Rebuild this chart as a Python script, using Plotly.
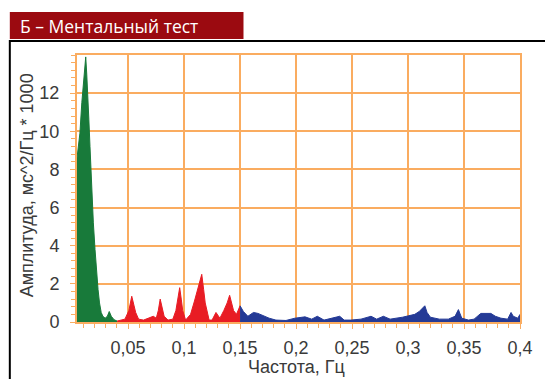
import plotly.graph_objects as go

# ---- data ----
vlf_freq = [0.0044, 0.0070, 0.0087, 0.0105, 0.0114, 0.0122, 0.0131, 0.0140, 0.0150, 0.0160,
            0.0175, 0.0190, 0.0205, 0.0219, 0.0232, 0.0245, 0.0260, 0.0275, 0.0295, 0.0315,
            0.0332, 0.0350, 0.0375, 0.0402]
vlf_amp = [8.6, 9.9, 11.5, 12.6, 13.5, 13.9, 13.0, 12.1, 10.6, 9.2,
           7.0, 5.2, 3.8, 2.6, 1.7, 1.0, 0.5, 0.3, 0.2, 0.3,
           0.55, 0.3, 0.12, 0.05]

lf_freq = [0.0402, 0.0437, 0.0472, 0.0507, 0.0533, 0.0568, 0.0594, 0.0638, 0.0682, 0.0725,
           0.0752, 0.0770, 0.0787, 0.0805, 0.0822, 0.0857, 0.0900, 0.0927, 0.0945, 0.0961,
           0.0975, 0.0988, 0.1014, 0.1058, 0.1093, 0.1119, 0.1140, 0.1158, 0.1175, 0.1189,
           0.1224, 0.1250, 0.1285, 0.1320, 0.1355, 0.1385, 0.1407, 0.1425, 0.1442, 0.1468,
           0.1500]
lf_amp = [0.05, 0.1, 0.15, 0.6, 1.35, 0.5, 0.15, 0.1, 0.2, 0.3,
          0.2, 0.6, 1.2, 0.7, 0.3, 0.1, 0.15, 0.6, 1.2, 1.8,
          1.2, 0.6, 0.1, 0.4, 1.1, 1.7, 2.2, 2.5, 1.7, 1.0,
          0.1, 0.1, 0.5, 0.2, 0.6, 1.0, 1.4, 1.0, 0.6, 0.4,
          0.85]

hf_freq = [0.150, 0.153, 0.157, 0.162, 0.166, 0.170, 0.176, 0.182, 0.191, 0.199,
           0.208, 0.214, 0.219, 0.225, 0.234, 0.239, 0.243, 0.249, 0.258, 0.267,
           0.272, 0.278, 0.284, 0.289, 0.295, 0.306, 0.310, 0.315, 0.317, 0.320,
           0.328, 0.336, 0.342, 0.345, 0.348, 0.354, 0.359, 0.365, 0.374, 0.378,
           0.383, 0.389, 0.392, 0.394, 0.398, 0.400]
hf_amp = [0.85, 0.55, 0.3, 0.5, 0.45, 0.35, 0.2, 0.1, 0.08, 0.2,
          0.27, 0.15, 0.3, 0.1, 0.25, 0.3, 0.1, 0.1, 0.15, 0.3,
          0.15, 0.3, 0.15, 0.2, 0.25, 0.4, 0.55, 0.85, 0.5, 0.25,
          0.15, 0.15, 0.3, 0.65, 0.2, 0.1, 0.15, 0.45, 0.45, 0.3,
          0.2, 0.15, 0.5, 0.3, 0.2, 0.4]

x_tickvals = [0.05, 0.1, 0.15, 0.2, 0.25, 0.3, 0.35, 0.4]
x_ticktext = ["0,05", "0,1", "0,15", "0,2", "0,25", "0,3", "0,35", "0,4"]
y_tickvals = [0, 2, 4, 6, 8, 10, 12]
y_ticktext = ["0", "2", "4", "6", "8", "10", "12"]

header_text = "Б – Ментальный тест"
x_title = "Частота, Гц"
y_title = "Амплитуда, мс^2/Гц * 1000"

# ---- figure ----
GREEN = "rgb(24,122,58)"
RED = "rgb(232,28,36)"
BLUE = "rgb(36,58,150)"
ORANGE = "rgb(250,172,96)"
TXT = "#3a3a3a"

fig = go.Figure()
for fx, fy, col in [(vlf_freq, vlf_amp, GREEN), (lf_freq, lf_amp, RED), (hf_freq, hf_amp, BLUE)]:
    fig.add_trace(go.Scatter(x=fx, y=fy, mode="lines", fill="tozeroy",
                             line=dict(color=col, width=1), fillcolor=col,
                             hoverinfo="skip", showlegend=False))

W, H = 545, 379
L, R, T, B = 77, 13, 55, 57
pw, ph = W - L - R, H - T - B


def px(x):
    return (x - L) / pw


def py(y):
    return (H - B - y) / ph


fig.update_layout(
    width=W, height=H,
    margin=dict(l=L, r=R, t=T, b=B),
    paper_bgcolor="white", plot_bgcolor="white",
    font=dict(family="Liberation Sans, Arial, sans-serif", size=18, color=TXT),
    xaxis=dict(range=[0.0044, 0.4], tickvals=x_tickvals, ticktext=x_ticktext,
               showgrid=True, gridcolor=ORANGE, gridwidth=2,
               showline=True, linecolor=ORANGE, linewidth=2, mirror=True,
               ticks="outside", ticklen=5, tickcolor=ORANGE, tickwidth=1,
               minor=dict(dtick=0.01, tick0=0, ticks="outside", ticklen=4,
                          tickcolor=ORANGE, showgrid=False),
               zeroline=False, tickfont=dict(size=18, color=TXT),
               ticklabelstandoff=3),
    yaxis=dict(range=[0, 14], tickvals=y_tickvals, ticktext=y_ticktext,
               showgrid=True, gridcolor=ORANGE, gridwidth=2,
               showline=True, linecolor=ORANGE, linewidth=2, mirror=True,
               ticks="outside", ticklen=5, tickcolor=ORANGE, tickwidth=1,
               minor=dict(dtick=0.4, tick0=0, ticks="outside", ticklen=4,
                          tickcolor=ORANGE, showgrid=False),
               zeroline=False, tickfont=dict(size=18, color=TXT),
               ticklabelstandoff=7),
    shapes=[
        dict(type="rect", xref="paper", yref="paper",
             x0=px(8), x1=px(560), y0=py(400), y1=py(41),
             line=dict(color="black", width=2), fillcolor="rgba(0,0,0,0)", layer="below"),
        dict(type="rect", xref="paper", yref="paper",
             x0=px(8), x1=px(248), y0=py(39), y1=py(12),
             line=dict(width=0), fillcolor="rgb(155,10,16)", layer="below"),
    ],
    annotations=[
        dict(text=header_text, xref="paper", yref="paper", x=px(16), y=py(25.5),
             xanchor="left", yanchor="middle", showarrow=False,
             font=dict(family="Open Sans, Noto Sans, sans-serif", size=17.5, color="white")),
        dict(text=x_title, xref="paper", yref="paper", x=px(302), y=py(367),
             xanchor="center", yanchor="middle", showarrow=False,
             font=dict(size=18, color=TXT)),
        dict(text=y_title, xref="paper", yref="paper", x=px(26), y=py(185),
             xanchor="center", yanchor="middle", showarrow=False, textangle=-90,
             font=dict(size=18, color=TXT)),
    ],
)

fig.write_html("out.html",
               config={"displayModeBar": False, "staticPlot": True},
               post_script="document.body.style.margin='0';document.body.style.overflow='hidden';")
